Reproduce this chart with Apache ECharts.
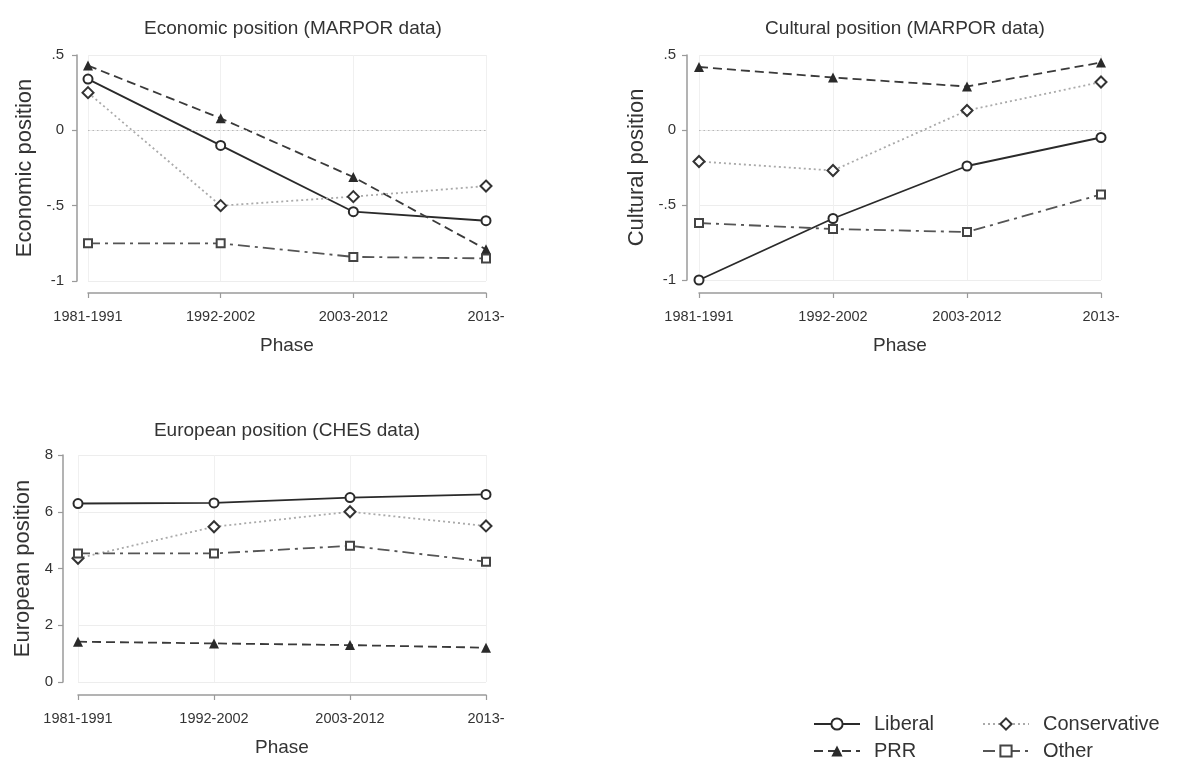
<!DOCTYPE html>
<html>
<head>
<meta charset="utf-8">
<script src="https://cdn.jsdelivr.net/npm/echarts@6/dist/echarts.min.js"></script>
<style>
html,body{margin:0;padding:0;background:#fff;}
#chart{width:1194px;height:769px;}
</style>
</head>
<body>
<div id="chart"></div>
<script>
const categories = ['1981-1991', '1992-2002', '2003-2012', '2013-'];

const econLiberal = [0.34, -0.10, -0.54, -0.60];
const econPRR = [0.43, 0.08, -0.31, -0.79];
const econConservative = [0.25, -0.50, -0.44, -0.37];
const econOther = [-0.75, -0.75, -0.84, -0.85];

const cultLiberal = [-1.00, -0.59, -0.24, -0.05];
const cultPRR = [0.42, 0.35, 0.29, 0.45];
const cultConservative = [-0.21, -0.27, 0.13, 0.32];
const cultOther = [-0.62, -0.66, -0.68, -0.43];

const euroLiberal = [6.29, 6.31, 6.50, 6.61];
const euroPRR = [1.42, 1.36, 1.30, 1.21];
const euroConservative = [4.36, 5.47, 6.00, 5.50];
const euroOther = [4.53, 4.53, 4.80, 4.24];

const titles = ['Economic position (MARPOR data)', 'Cultural position (MARPOR data)', 'European position (CHES data)'];
const yNames = ['Economic position', 'Cultural position', 'European position'];
const xName = 'Phase';

const FONT = '"Liberation Sans", Arial, sans-serif';
const TXT = '#333';
const AX = '#9a9a9a';

const styles = {
  'Liberal': {symbol: 'emptyCircle', symbolSize: 9, line: {color: '#2a2a2a', width: 1.8, type: 'solid'}, item: {color: '#2a2a2a', borderWidth: 1.5}},
  'PRR': {symbol: 'triangle', symbolSize: 10, line: {color: '#3a3a3a', width: 1.8, type: [9, 5]}, item: {color: '#2a2a2a'}},
  'Conservative': {symbol: 'emptyDiamond', symbolSize: 11, line: {color: '#aaaaaa', width: 1.8, type: [2, 3]}, item: {color: '#333', borderWidth: 1.5}},
  'Other': {symbol: 'emptyRect', symbolSize: 8, line: {color: '#555', width: 1.8, type: [12, 5, 3, 5]}, item: {color: '#444', borderWidth: 1.5}}
};

const panels = [
  {grid: {left: 88, top: 55, width: 398, height: 226}, yOff: 11, xOff: 12, nameGapY: 41, labelMargin: 13, min: -1, max: 0.5, interval: 0.5, zero: true,
   data: {Liberal: econLiberal, PRR: econPRR, Conservative: econConservative, Other: econOther}, title: {x: 288, y: 14}},
  {grid: {left: 699, top: 55, width: 402, height: 225}, yOff: 12, xOff: 13, nameGapY: 39, labelMargin: 11, min: -1, max: 0.5, interval: 0.5, zero: true,
   data: {Liberal: cultLiberal, PRR: cultPRR, Conservative: cultConservative, Other: cultOther}, title: {x: 900, y: 14}},
  {grid: {left: 78, top: 455, width: 408, height: 227}, yOff: 15, xOff: 13, nameGapY: 29, labelMargin: 10, min: 0, max: 8, interval: 2, zero: false,
   data: {Liberal: euroLiberal, PRR: euroPRR, Conservative: euroConservative, Other: euroOther}, title: {x: 282, y: 416}}
];

function fmtY(v) {
  if (v === 0) return '0';
  let s = String(Math.round(v * 100) / 100);
  s = s.replace(/^0\./, '.').replace(/^-0\./, '-.');
  return s;
}

const legendText = {fontFamily: FONT, fontSize: 20, lineHeight: 22, color: TXT, padding: [0, 0, 0, 9]};

const option = {
  backgroundColor: '#fff',
  animation: false,
  title: [],
  grid: [],
  xAxis: [],
  yAxis: [],
  series: [],
  legend: [
    {orient: 'vertical', left: 808, top: 708, height: 60, itemWidth: 46, itemHeight: 14, itemGap: 5,
     data: ['Liberal', 'PRR'], textStyle: legendText},
    {orient: 'vertical', left: 977, top: 708, height: 60, itemWidth: 46, itemHeight: 14, itemGap: 5,
     data: ['Conservative', 'Other'], textStyle: legendText}
  ]
};

panels.forEach((p, i) => {
  option.title.push({text: titles[i], left: p.title.x, top: p.title.y, textAlign: 'center',
    textStyle: {fontFamily: FONT, fontSize: 19, fontWeight: 'normal', color: TXT}});
  option.grid.push(Object.assign({containLabel: false}, p.grid));
  option.xAxis.push({
    type: 'category', gridIndex: i, data: categories, boundaryGap: false, offset: p.xOff,
    position: 'bottom',
    name: xName, nameLocation: 'middle', nameGap: 43,
    nameTextStyle: {fontFamily: FONT, fontSize: 19, color: TXT},
    axisLine: {onZero: false, lineStyle: {color: AX, width: 1.5}},
    axisTick: {show: true, length: 5, lineStyle: {color: AX, width: 1.2}},
    axisLabel: {fontFamily: FONT, fontSize: 14.5, color: TXT, margin: 16, interval: 0},
    splitLine: {show: true, lineStyle: {color: '#f0f0f0', width: 1}}
  });
  option.yAxis.push({
    type: 'value', gridIndex: i, min: p.min, max: p.max, interval: p.interval, offset: p.yOff,
    name: yNames[i], nameLocation: 'middle', nameGap: p.nameGapY, nameRotate: 90,
    nameTextStyle: {fontFamily: FONT, fontSize: 22, color: TXT},
    axisLine: {show: true, onZero: false, lineStyle: {color: AX, width: 1.5}},
    axisTick: {show: true, length: 5, lineStyle: {color: AX, width: 1.2}},
    axisLabel: {fontFamily: FONT, fontSize: 15, color: TXT, margin: p.labelMargin, formatter: fmtY},
    splitLine: {show: true, lineStyle: {color: '#ededed', width: 1}}
  });
  ['Liberal', 'PRR', 'Conservative', 'Other'].forEach((name, k) => {
    const st = styles[name];
    const s = {
      name: name, type: 'line', xAxisIndex: i, yAxisIndex: i,
      data: p.data[name], symbol: st.symbol, symbolSize: st.symbolSize, showSymbol: true,
      lineStyle: st.line, itemStyle: st.item, z: 3
    };
    if (k === 0 && p.zero) {
      s.markLine = {silent: true, symbol: ['none', 'none'], label: {show: false},
        lineStyle: {color: '#b8b8b8', type: [1.5, 3], width: 1.2}, data: [{yAxis: 0}]};
    }
    option.series.push(s);
  });
});

const chart = echarts.init(document.getElementById('chart'), null, {renderer: 'canvas'});
chart.setOption(option);
</script>
</body>
</html>
